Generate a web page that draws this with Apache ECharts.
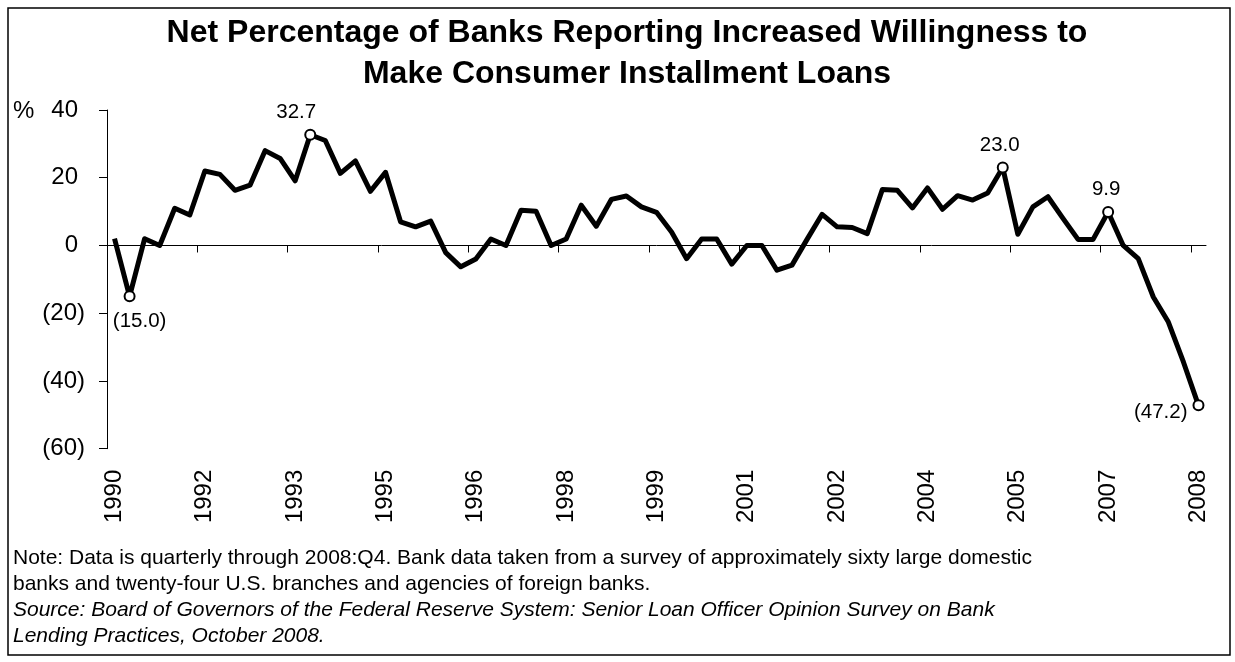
<!DOCTYPE html>
<html>
<head>
<meta charset="utf-8">
<script src="https://cdn.jsdelivr.net/npm/echarts@6/dist/echarts.min.js"></script>
<style>
  html, body { margin: 0; padding: 0; background: #fff; }
  #chart { width: 1235px; height: 662px; }
</style>
</head>
<body>
<div id="chart"></div>
<script>
// Quarterly survey periods, 1990:Q4 through 2008:Q4
const quarters = [
  '1990:Q4',
  '1991:Q1','1991:Q2','1991:Q3','1991:Q4',
  '1992:Q1','1992:Q2','1992:Q3','1992:Q4',
  '1993:Q1','1993:Q2','1993:Q3','1993:Q4',
  '1994:Q1','1994:Q2','1994:Q3','1994:Q4',
  '1995:Q1','1995:Q2','1995:Q3','1995:Q4',
  '1996:Q1','1996:Q2','1996:Q3','1996:Q4',
  '1997:Q1','1997:Q2','1997:Q3','1997:Q4',
  '1998:Q1','1998:Q2','1998:Q3','1998:Q4',
  '1999:Q1','1999:Q2','1999:Q3','1999:Q4',
  '2000:Q1','2000:Q2','2000:Q3','2000:Q4',
  '2001:Q1','2001:Q2','2001:Q3','2001:Q4',
  '2002:Q1','2002:Q2','2002:Q3','2002:Q4',
  '2003:Q1','2003:Q2','2003:Q3','2003:Q4',
  '2004:Q1','2004:Q2','2004:Q3','2004:Q4',
  '2005:Q1','2005:Q2','2005:Q3','2005:Q4',
  '2006:Q1','2006:Q2','2006:Q3','2006:Q4',
  '2007:Q1','2007:Q2','2007:Q3','2007:Q4',
  '2008:Q1','2008:Q2','2008:Q3','2008:Q4'
];

// Net percentage of banks reporting increased willingness (%)
const netWillingness = [
  2.0,
  -15.0, 2.0, 0.0, 11.0,
  9.0, 22.0, 21.0, 16.3,
  17.8, 28.0, 25.7, 19.1,
  32.7, 31.0, 21.3, 25.0,
  16.0, 21.6, 7.0, 5.5,
  7.2, -2.1, -6.3, -4.0,
  1.9, 0.0, 10.4, 10.1,
  0.0, 1.9, 11.9, 5.7,
  13.6, 14.6, 11.4, 9.8,
  4.0, -3.9, 1.9, 1.9,
  -5.5, 0.0, 0.0, -7.3,
  -5.8, 1.8, 9.2, 5.5,
  5.3, 3.5, 16.5, 16.3,
  11.1, 17.0, 10.7, 14.7,
  13.4, 15.5, 23.0, 3.3,
  11.4, 14.4, 8.0, 1.8,
  1.8, 9.9, 0.0, -3.9,
  -15.2, -22.6, -34.4, -47.2
];

// Periods that carry a value callout
const calloutQuarters = ['1991:Q1', '1994:Q1', '2005:Q3', '2007:Q2', '2008:Q4'];

// Y axis tick values
const yTicks = [-60, -40, -20, 0, 20, 40];

// Category boundaries where the zero-line ticks fall (every six quarters)
const tickBoundaries = [0, 6, 12, 18, 24, 30, 36, 42, 48, 54, 60, 66, 72];

const titleLines = [
  'Net Percentage of Banks Reporting Increased Willingness to',
  'Make Consumer Installment Loans'
];
const noteLines = [
  'Note: Data is quarterly through 2008:Q4. Bank data taken from a survey of approximately sixty large domestic',
  'banks and twenty-four U.S. branches and agencies of foreign banks.'
];
const sourceLines = [
  'Source: Board of Governors of the Federal Reserve System: Senior Loan Officer Opinion Survey on Bank',
  'Lending Practices, October 2008.'
];

const FONT = "'Liberation Sans', Arial, Helvetica, sans-serif";

// Accounting-style number: negatives in parentheses
function acct(v, digits) {
  const s = Math.abs(v).toFixed(digits);
  return v < 0 ? '(' + s + ')' : s;
}

// Callout label placement per period
const calloutStyle = {
  '1991:Q1': { position: 'bottom', distance: 9, offset: [10, 0] },
  '1994:Q1': { position: 'top', distance: 6, offset: [-14, 0] },
  '2005:Q3': { position: 'top', distance: 6, offset: [-3, 0] },
  '2007:Q2': { position: 'top', distance: 6, offset: [-2, 0] },
  '2008:Q4': { position: 'left', distance: 5, offset: [0, 7] }
};

const seriesData = netWillingness.map(function (v, i) {
  const q = quarters[i];
  if (calloutQuarters.indexOf(q) >= 0) {
    const st = calloutStyle[q];
    return {
      value: v,
      symbol: 'circle',
      symbolSize: 10,
      itemStyle: { color: '#fff', borderColor: '#000', borderWidth: 2 },
      label: {
        show: true,
        position: st.position,
        distance: st.distance,
        offset: st.offset,
        formatter: function (p) { return acct(p.value, 1); },
        color: '#000',
        fontFamily: FONT,
        fontSize: 20.5
      }
    };
  }
  return { value: v, symbol: 'none' };
});

const chart = echarts.init(document.getElementById('chart'), null, { renderer: 'canvas' });

chart.setOption({
  animation: false,
  backgroundColor: '#fff',
  title: {
    text: titleLines.join('\n'),
    left: 622,
    top: 8,
    textAlign: 'center',
    textStyle: {
      fontFamily: FONT,
      fontSize: 32,
      fontWeight: 'bold',
      color: '#000',
      lineHeight: 41
    }
  },
  grid: {
    left: 107,
    right: 29,
    top: 110,
    height: 338.7,
    containLabel: false
  },
  xAxis: [
    {
      type: 'category',
      data: quarters,
      boundaryGap: true,
      position: 'bottom',
      axisLine: { show: false, onZero: false },
      axisTick: { show: false },
      axisLabel: {
        interval: 5,
        rotate: 90,
        margin: 21,
        fontFamily: FONT,
        fontSize: 24,
        color: '#000',
        formatter: function (q) { return q.slice(0, 4); }
      },
      splitLine: { show: false }
    },
    {
      // zero line with tick marks every six quarters
      type: 'value',
      min: 0,
      max: quarters.length,
      position: 'bottom',
      axisLine: { show: true, onZero: true, lineStyle: { color: '#000', width: 1 } },
      axisTick: {
        show: true,
        length: 7,
        customValues: tickBoundaries,
        lineStyle: { color: '#000', width: 1 }
      },
      axisLabel: { show: false },
      splitLine: { show: false }
    }
  ],
  yAxis: {
    type: 'value',
    min: yTicks[0],
    max: yTicks[yTicks.length - 1],
    interval: 20,
    axisLine: { show: true, onZero: false, lineStyle: { color: '#000', width: 1 } },
    axisTick: { show: true, length: 8, lineStyle: { color: '#000', width: 1 } },
    splitLine: { show: false },
    axisLabel: {
      margin: 22,
      fontFamily: FONT,
      fontSize: 24,
      color: '#000',
      formatter: function (v) {
        return v < 0 ? '{n|' + acct(v, 0) + '}' : '{p|' + acct(v, 0) + '}';
      },
      rich: {
        n: { fontFamily: FONT, fontSize: 24, color: '#000' },
        p: { fontFamily: FONT, fontSize: 24, color: '#000', padding: [0, 7, 0, 0] }
      }
    }
  },
  graphic: [
    {
      type: 'rect',
      silent: true,
      shape: { x: 8, y: 8, width: 1222, height: 647 },
      style: { fill: null, stroke: '#000', lineWidth: 1.5 }
    },
    {
      type: 'text',
      left: 13,
      top: 99,
      style: { text: '%', fontFamily: FONT, fontSize: 24, fill: '#000' }
    },
    {
      type: 'text',
      left: 13,
      top: 545,
      style: {
        text: noteLines.join('\n'),
        fontFamily: FONT, fontSize: 21, lineHeight: 26, fill: '#000'
      }
    },
    {
      type: 'text',
      left: 13,
      top: 597,
      style: {
        text: sourceLines.join('\n'),
        fontFamily: FONT, fontSize: 21, fontStyle: 'italic', lineHeight: 26, fill: '#000'
      }
    }
  ],
  series: [
    {
      type: 'line',
      xAxisIndex: 0,
      yAxisIndex: 0,
      data: seriesData,
      showSymbol: true,
      showAllSymbol: true,
      symbol: 'none',
      lineStyle: { color: '#000', width: 5, join: 'round' },
      itemStyle: { color: '#000' },
      z: 3
    }
  ]
});
</script>
</body>
</html>
